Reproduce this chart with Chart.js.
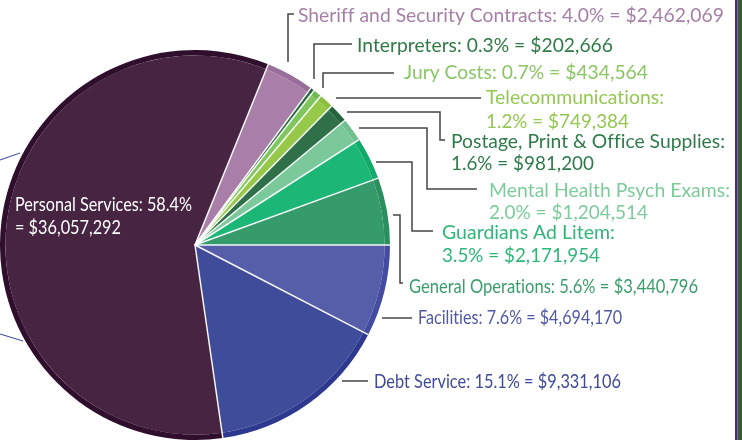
<!DOCTYPE html>
<html>
<head>
<meta charset="utf-8">
<script src="https://cdn.jsdelivr.net/npm/chart.js@4.4.0/dist/chart.umd.min.js"></script>
<style>
    html, body { margin: 0; padding: 0; background: #ffffff; overflow: hidden; }
    #wrap { position: relative; width: 742px; height: 440px; }
</style>
</head>
<body>
<div id="wrap"><canvas id="budgetChart" width="742" height="440"></canvas></div>
<script>
// Data, in drawing order (clockwise from 3 o'clock)
const categories = ['Facilities', 'Debt Service', 'Personal Services', 'Sheriff and Security Contracts',
    'Interpreters', 'Jury Costs', 'Telecommunications', 'Postage, Print & Office Supplies',
    'Mental Health Psych Exams', 'Guardians Ad Litem', 'General Operations'];
const amounts = [4694170, 9331106, 36057292, 2462069, 202666, 434564, 749384, 981200, 1204514, 2171954, 3440796];

const sliceColors = ['#565ea9', '#3e4c99', '#472542', '#a97ea8', '#2b6b3f', '#7ec65d',
    '#96c94a', '#2f7048', '#7bc99b', '#1cb776', '#369b6b'];
const rimColors = ['#434ca1', '#2c398f', '#2f0f2d', '#9a6e9a', '#1f5a30', '#6fba50',
    '#8ac03d', '#25633c', '#6ec08f', '#10ab69', '#2a8f5e'];
const textColors = ['#5058a6', '#3f4a9a', '#ffffff', '#a67fa7', '#2f7a46', '#8bc665',
    '#94c852', '#2f7a4a', '#7ccc9b', '#2fb779', '#3a9d6b'];

// label layout: x, y of each line, target widths, split style, leader line
const labelLayout = [
    { x: 418, y: [318], w: [204], split: 0, lead: [[382, 318], [412, 318]] },
    { x: 374, y: [382], w: [247], split: 0, lead: [[342, 381], [368, 381]] },
    { x: 15, y: [205, 228], w: [177, 106], split: 2, lead: null },
    { x: 298, y: [16], w: [426], split: 0, lead: [[288, 62], [288, 14], [294, 14]] },
    { x: 357, y: [46], w: [256], split: 0, lead: [[314, 79], [314, 44], [352, 44]] },
    { x: 404, y: [73], w: [244], split: 0, lead: [[323, 88], [323, 73], [394, 73]] },
    { x: 486, y: [98, 122], w: [178, 143], split: 1, lead: [[336, 98], [481, 98]] },
    { x: 451, y: [142, 164], w: [274, 143], split: 1, lead: [[347, 112], [440, 112], [440, 140], [445, 140]] },
    { x: 489, y: [191, 213], w: [241, 159], split: 1, lead: [[359, 128], [427, 128], [427, 189], [477, 189]] },
    { x: 442, y: [233, 256], w: [173, 158], split: 1, lead: [[376, 162], [412, 162], [412, 231], [433, 231]] },
    { x: 409, y: [287], w: [289], split: 0, lead: [[393, 215], [400, 215], [400, 283], [403, 283]] }
];

const total = amounts.reduce((a, b) => a + b, 0);

function labelLines(i) {
    const pct = (amounts[i] / total * 100).toFixed(1) + '%';
    const money = '$' + amounts[i].toLocaleString('en-US');
    const split = labelLayout[i].split;
    if (split === 1) {
        return [categories[i] + ':', pct + ' = ' + money];
    } else if (split === 2) {
        return [categories[i] + ': ' + pct, '= ' + money];
    }
    return [categories[i] + ': ' + pct + ' = ' + money];
}

function drawFit(ctx, text, x, y, w) {
    const m = ctx.measureText(text).width;
    ctx.save();
    ctx.translate(x, y);
    ctx.scale(w / m, 1);
    ctx.fillText(text, 0, 0);
    ctx.restore();
}

const decorPlugin = {
    id: 'decor',
    afterDatasetsDraw(chart) {
        const ctx = chart.ctx;
        const arcs = chart.getDatasetMeta(0).data;

        // white separators between slices
        ctx.save();
        ctx.strokeStyle = 'rgba(255,255,255,0.95)';
        ctx.lineWidth = 1.5;
        arcs.forEach(arc => {
            const p = arc.getProps(['x', 'y', 'startAngle', 'outerRadius'], true);
            ctx.beginPath();
            ctx.moveTo(p.x, p.y);
            ctx.lineTo(p.x + Math.cos(p.startAngle) * p.outerRadius, p.y + Math.sin(p.startAngle) * p.outerRadius);
            ctx.stroke();
        });
        ctx.restore();

        // leader lines
        ctx.save();
        ctx.strokeStyle = '#444444';
        ctx.lineWidth = 1.5;
        labelLayout.forEach(l => {
            if (!l.lead) return;
            ctx.beginPath();
            l.lead.forEach((pt, k) => k ? ctx.lineTo(pt[0], pt[1]) : ctx.moveTo(pt[0], pt[1]));
            ctx.stroke();
        });

        // blue lines at left edge
        ctx.strokeStyle = '#3a45a0';
        ctx.lineWidth = 1;
        ctx.beginPath();
        ctx.moveTo(0, 160); ctx.lineTo(20, 153);
        ctx.moveTo(0, 334); ctx.lineTo(23, 341);
        ctx.stroke();

        // right edge bars
        ctx.fillStyle = '#4e2a7f';
        ctx.fillRect(735, 0, 2.5, 440);
        ctx.fillStyle = '#3c5a34';
        ctx.fillRect(737.5, 0, 5, 440);
        ctx.restore();

        // labels
        ctx.save();
        ctx.font = '20px Lato';
        ctx.letterSpacing = '0.01px'; // keeps "ti" from turning into a ligature
        ctx.textBaseline = 'middle';
        ctx.textAlign = 'left';
        labelLayout.forEach((l, i) => {
            ctx.fillStyle = textColors[i];
            labelLines(i).forEach((t, k) => drawFit(ctx, t, l.x, l.y[k], l.w[k]));
        });
        ctx.restore();
    }
};

const ctx = document.getElementById('budgetChart').getContext('2d');
const budgetChart = new Chart(ctx, {
    type: 'pie',
    data: {
        labels: categories,
        datasets: [{
            data: amounts,
            backgroundColor: rimColors,
            borderWidth: 0,
            weight: 1
        }, {
            data: amounts,
            backgroundColor: sliceColors,
            borderWidth: 0,
            weight: 35
        }]
    },
    options: {
        responsive: false,
        animation: false,
        rotation: 90,
        layout: {
            padding: { left: -4, top: 50, right: 352, bottom: 0 }
        },
        plugins: {
            legend: { display: false },
            tooltip: { enabled: false }
        }
    },
    plugins: [decorPlugin]
});
</script>
</body>
</html>
